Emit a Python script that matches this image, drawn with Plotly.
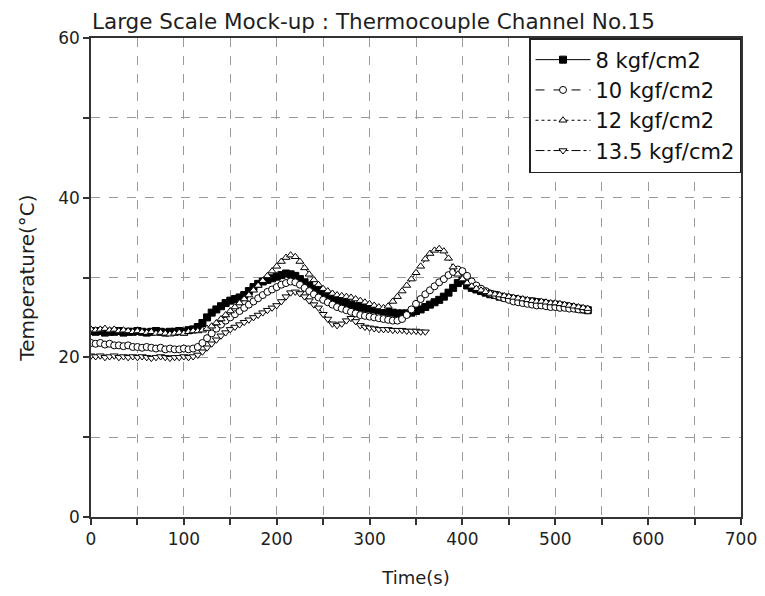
import plotly.graph_objects as go

time_long = list(range(0, 540, 5))   # 0..535 s
time_short = list(range(0, 370, 5))  # 0..365 s

temp_8 = [23.3, 23.2, 23.3, 23.1, 23.2, 23.2, 23.3, 23.1, 23.2, 23.2, 23.3, 23.2, 23.1, 23.2, 23.3, 23.2,
          23.1, 23.2, 23.2, 23.3, 23.2, 23.4, 23.5,
          23.8, 24.3, 25.0, 25.6, 26.0, 26.4, 26.8, 27.1, 27.3, 27.5, 27.8, 28.3, 28.8, 29.2, 29.5, 29.7,
          29.9, 30.1, 30.3, 30.5, 30.4, 30.2, 29.8, 29.4, 29.0, 28.6, 28.3, 28.0, 27.7, 27.4, 27.2, 27.0,
          26.8, 26.6, 26.4, 26.3, 26.2, 26.1, 26.0, 25.9, 25.8, 25.7, 25.6, 25.5, 25.5, 25.5, 25.6, 25.8,
          26.0, 26.3, 26.6, 26.9, 27.2, 27.6, 28.1, 28.7, 29.3, 29.6, 29.0, 28.7, 28.5, 28.3, 28.1, 27.9,
          27.8, 27.6, 27.5, 27.4, 27.3, 27.2, 27.1, 27.0, 27.0, 26.9, 26.8, 26.7, 26.6, 26.6, 26.5, 26.4,
          26.3, 26.2, 26.1, 26.0, 25.9]

temp_10 = [21.8, 21.7, 21.8, 21.6, 21.7, 21.5, 21.5, 21.4, 21.5, 21.3, 21.3, 21.2, 21.3, 21.2, 21.1, 21.2,
           21.0, 21.1, 21.0, 21.0, 21.1, 21.0, 21.1,
           21.3, 21.8, 22.4, 23.0, 23.6, 24.1, 24.6, 25.0, 25.4, 25.8, 26.2, 26.6, 27.0, 27.4, 27.8, 28.2,
           28.5, 28.8, 29.1, 29.3, 29.5, 29.4, 29.1, 28.7, 28.3, 27.9, 27.5, 27.2, 26.9, 26.6, 26.3, 26.1,
           25.9, 25.7, 25.5, 25.3, 25.2, 25.1, 25.0, 24.9, 24.8, 24.7, 24.6, 24.6, 24.8, 25.3, 26.0, 26.7,
           27.3, 27.9, 28.4, 28.9, 29.4, 29.8, 30.3, 30.7, 31.0, 30.8, 30.2, 29.5, 29.0, 28.6, 28.3, 28.0,
           27.8, 27.6, 27.4, 27.2, 27.0, 26.9, 26.8, 26.7, 26.6, 26.5, 26.5, 26.4, 26.3, 26.3, 26.2, 26.2,
           26.1, 26.1, 26.0, 26.0, 25.9]

temp_12 = [23.5, 23.4, 23.5, 23.6, 23.4, 23.5, 23.3, 23.4, 23.3, 23.2, 23.3, 23.2, 23.1, 23.2, 23.0, 23.1,
           23.0, 22.9, 23.0, 23.1, 23.0, 23.2, 23.3,
           23.3, 23.4, 23.6, 23.9, 24.3, 24.8, 25.3, 25.8, 26.3, 26.8, 27.3, 27.8, 28.4, 29.0, 29.6, 30.2,
           30.8, 31.4, 32.0, 32.5, 32.8, 32.6, 32.0, 31.2, 30.4, 29.7, 29.1, 28.6, 28.3, 28.0, 27.8, 27.7,
           27.6, 27.5, 27.3, 27.1, 26.9, 26.7, 26.5, 26.3, 26.2, 26.4, 27.0, 27.6, 28.3, 29.0, 29.8, 30.6,
           31.4, 32.3, 33.0, 33.4, 33.6, 33.3, 32.4, 31.3, 30.4, 29.8, 29.3, 28.9, 28.6, 28.4, 28.2, 28.0,
           27.9, 27.8, 27.7, 27.6, 27.5, 27.4, 27.3, 27.2, 27.1, 27.0, 27.0, 26.9, 26.8, 26.8, 26.7, 26.6,
           26.5, 26.4, 26.3, 26.2, 26.1]

temp_135 = [20.2, 20.1, 20.2, 20.0, 20.1, 20.2, 20.0, 20.1, 20.0, 20.1, 20.0, 20.1, 20.0, 19.9, 20.0, 20.1,
            20.0, 19.9, 20.0, 20.0, 20.1, 20.0, 20.1,
            20.3, 20.7, 21.2, 21.7, 22.2, 22.7, 23.1, 23.5, 23.8, 24.1, 24.4, 24.7, 25.0, 25.3, 25.6, 25.9,
            26.2, 26.5, 27.0, 27.6, 28.1, 28.2, 28.0, 27.6, 27.1, 26.6, 26.2, 25.4, 24.8, 24.2, 24.0, 24.2,
            24.6, 24.9, 24.5, 24.0, 23.8, 23.7, 23.6, 23.5, 23.5, 23.5, 23.4, 23.4, 23.4, 23.3, 23.3, 23.3,
            23.2, 23.2]

series_names = ["8 kgf/cm2", "10 kgf/cm2", "12 kgf/cm2", "13.5 kgf/cm2"]
x_ticks = [0, 100, 200, 300, 400, 500, 600, 700]
y_ticks = [0, 20, 40, 60]

FONT = "DejaVu Sans, Verdana, sans-serif"
INK = "#1e1e1e"

fig = go.Figure()
styles = [
    (time_long, temp_8, "solid", "square", "black"),
    (time_long, temp_10, "dash", "circle", "white"),
    (time_long, temp_12, "dot", "triangle-up", "white"),
    (time_short, temp_135, "dashdot", "triangle-down", "white"),
]
for name, (xs, ys, dash, sym, fill) in zip(series_names, styles):
    fig.add_trace(go.Scatter(
        x=xs, y=ys[:len(xs)], name=name, mode="lines+markers",
        line=dict(color="black", width=1, dash=dash),
        marker=dict(symbol=sym, size=7, color=fill, line=dict(color="black", width=1)),
    ))

axis_common = dict(
    showline=True, linecolor="#333", linewidth=1.5, mirror=True,
    ticks="outside", ticklen=6, tickcolor="#333", tickwidth=1.5,
    showgrid=True, gridcolor="#9a9a9a", griddash="dash", gridwidth=1,
    zeroline=False, tickfont=dict(family=FONT, size=17, color=INK),
    ticklabeloverflow="allow",
)
fig.update_xaxes(
    range=[0, 700], tickvals=x_ticks,
    minor=dict(dtick=50, ticks="outside", ticklen=6, tickcolor="#333", showgrid=True,
               gridcolor="#9a9a9a", griddash="dash"),
    title=dict(text="Time(s)", font=dict(family=FONT, size=18, color=INK), standoff=24),
    **axis_common,
)
fig.update_yaxes(
    range=[0, 60], tickvals=y_ticks,
    minor=dict(dtick=10, ticks="outside", ticklen=6, tickcolor="#333", showgrid=True,
               gridcolor="#9a9a9a", griddash="dash"),
    title=dict(text="Temperature(°C)", font=dict(family=FONT, size=20, color=INK), standoff=18),
    **axis_common,
)
W, H = 749, 580
fig.update_layout(
    width=W, height=H,
    margin=dict(l=83, r=16, t=30, b=71, autoexpand=False),
    paper_bgcolor="white", plot_bgcolor="white",
    title=dict(text="Large Scale Mock-up : Thermocouple Channel No.15",
               font=dict(family=FONT, size=21.5, color=INK),
               x=84 / W, xanchor="left", y=1 - 13 / H, yanchor="middle"),
    legend=dict(x=1, y=1, xanchor="right", yanchor="top", bgcolor="white",
                bordercolor="#222", borderwidth=1.5, itemwidth=55,
                font=dict(family=FONT, size=21, color="#111"), tracegroupgap=0),
    showlegend=True,
)
fig.write_html("out.html")
